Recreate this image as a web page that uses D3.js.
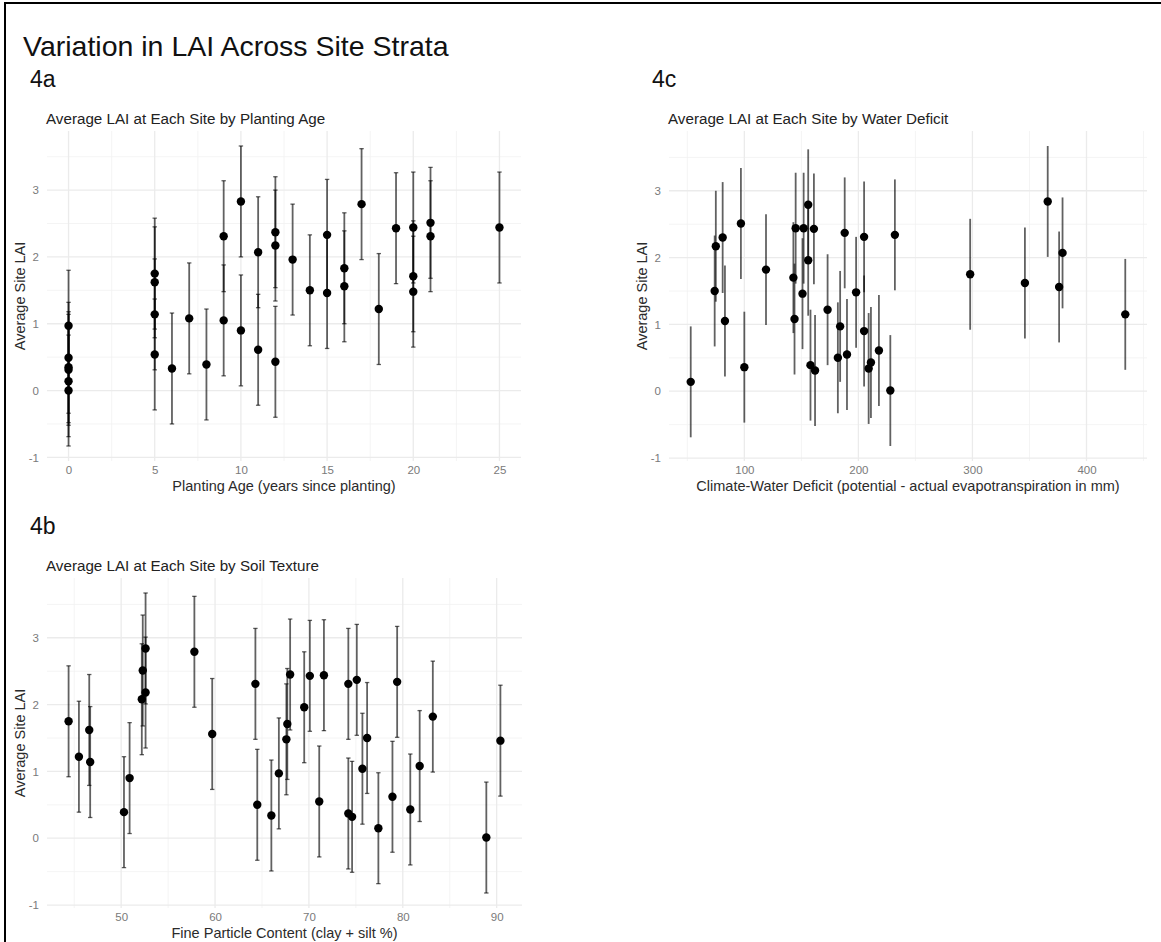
<!DOCTYPE html>
<html>
<head>
<meta charset="utf-8">
<script src="https://cdn.jsdelivr.net/npm/d3@7"></script>
<style>
  body { margin: 0; background: #fff; }
  text { font-family: "Liberation Sans", Arial, Helvetica, sans-serif; }
</style>
</head>
<body>
<script>
// spread of the error bars (same for every site)
const laiSd = 0.83

// 4a: planting age
const ageYears = [0, 0, 0, 0, 0, 0, 5, 5, 5, 5, 6, 7, 8, 9, 9, 10, 10, 11, 11, 12, 12, 12, 13, 14, 15, 15, 16, 16, 17, 18, 19, 20, 20, 20, 21, 21, 25]
const ageLai = [0.97, 0.49, 0.35, 0.31, 0.14, 0.00, 1.75, 1.62, 1.14, 0.54, 0.33, 1.08, 0.39, 2.31, 1.05, 2.83, 0.90, 2.07, 0.61, 2.37, 2.17, 0.43, 1.96, 1.50, 2.33, 1.46, 1.83, 1.56, 2.79, 1.22, 2.43, 2.44, 1.71, 1.48, 2.51, 2.31, 2.44]

// 4c: climate-water deficit
const cwdMm = [53, 74, 75, 81, 83, 97, 100, 119, 143, 144, 145, 151, 152, 156, 156, 158, 161, 162, 173, 182, 184, 188, 190, 198, 205, 205, 209, 211, 218, 228, 232, 298, 346, 366, 376, 379, 434]
const cwdLai = [0.14, 1.50, 2.17, 2.30, 1.05, 2.51, 0.36, 1.82, 1.70, 1.08, 2.44, 1.46, 2.44, 2.79, 1.96, 0.39, 2.43, 0.31, 1.22, 0.50, 0.97, 2.37, 0.55, 1.48, 2.31, 0.90, 0.34, 0.43, 0.61, 0.01, 2.34, 1.75, 1.62, 2.84, 1.56, 2.07, 1.15]

// 4b: soil texture
const finePct = [44.4, 45.5, 46.6, 46.7, 50.3, 50.9, 52.2, 52.3, 52.6, 52.6, 57.8, 59.7, 64.3, 64.5, 66.0, 66.8, 67.6, 67.7, 68.0, 69.5, 70.1, 71.1, 71.6, 74.2, 74.2, 74.6, 75.1, 75.7, 76.2, 77.4, 78.9, 79.4, 80.8, 81.8, 83.2, 88.9, 90.4]
const fineLai = [1.75, 1.22, 1.62, 1.14, 0.39, 0.90, 2.08, 2.51, 2.84, 2.18, 2.79, 1.56, 2.31, 0.50, 0.34, 0.97, 1.48, 1.71, 2.45, 1.96, 2.43, 0.55, 2.44, 0.37, 2.31, 0.32, 2.37, 1.04, 1.50, 0.15, 0.62, 2.34, 0.43, 1.08, 1.82, 0.01, 1.46]

// breaks
const laiTicks = [-1, 0, 1, 2, 3]
const laiMinor = [-0.5, 0.5, 1.5, 2.5, 3.5]
const ageTicks = [0, 5, 10, 15, 20, 25]
const ageMinor = [2.5, 7.5, 12.5, 17.5, 22.5]
const cwdTicks = [100, 200, 300, 400]
const cwdMinor = [50, 150, 250, 350, 450]
const fineTicks = [50, 60, 70, 80, 90]
const fineMinor = [45, 55, 65, 75, 85]

const width = 1161
const height = 942

const svg = d3.select('body')
  .append('svg')
  .attr('width', width)
  .attr('height', height)

svg.append('rect')
  .attr('x', 5)
  .attr('y', 3)
  .attr('width', 1300)
  .attr('height', 1100)
  .attr('fill', 'none')
  .attr('stroke', '#000')
  .attr('stroke-width', 2)

svg.append('text')
  .attr('x', 23)
  .attr('y', 56)
  .attr('font-size', 28.5)
  .attr('fill', '#111')
  .text('Variation in LAI Across Site Strata')

// ggplot style 5% expansion
function expand (ext) {
  const pad = (ext[1] - ext[0]) * 0.05
  return [ext[0] - pad, ext[1] + pad]
}

const panels = [
  { tag: '4a', title: 'Average LAI at Each Site by Planting Age', xTitle: 'Planting Age (years since planting)',
    xs: ageYears, ys: ageLai, ticks: ageTicks, minor: ageMinor, caps: true,
    left: 47, right: 521, top: 131, bottom: 461 },
  { tag: '4c', title: 'Average LAI at Each Site by Water Deficit', xTitle: 'Climate-Water Deficit (potential - actual evapotranspiration in mm)',
    xs: cwdMm, ys: cwdLai, ticks: cwdTicks, minor: cwdMinor, caps: false,
    left: 669, right: 1147, top: 131, bottom: 461 },
  { tag: '4b', title: 'Average LAI at Each Site by Soil Texture', xTitle: 'Fine Particle Content (clay + silt %)',
    xs: finePct, ys: fineLai, ticks: fineTicks, minor: fineMinor, caps: true,
    left: 47, right: 522, top: 578, bottom: 908 }
]

panels.forEach(p => {
  const data = p.xs.map((v, i) => ({ x: v, lai: p.ys[i] }))

  const xScale = d3.scaleLinear()
    .domain(expand(d3.extent(p.xs)))
    .range([p.left, p.right])

  const yScale = d3.scaleLinear()
    .domain(expand([d3.min(p.ys) - laiSd, d3.max(p.ys) + laiSd]))
    .range([p.bottom, p.top])

  const g = svg.append('g')

  // labels above the panel
  g.append('text')
    .attr('x', p.left - 17)
    .attr('y', p.top - 44)
    .attr('font-size', 23)
    .attr('fill', '#111')
    .text(p.tag)

  g.append('text')
    .attr('x', p.left - 1)
    .attr('y', p.top - 7)
    .attr('font-size', 15.2)
    .attr('fill', '#222')
    .text(p.title)

  // grid
  const grid = g.append('g')
  const gridLine = (vals, isX, w, col) => {
    grid.selectAll(null)
      .data(vals)
      .enter()
      .append('line')
      .attr('x1', d => isX ? xScale(d) : p.left)
      .attr('x2', d => isX ? xScale(d) : p.right)
      .attr('y1', d => isX ? p.top : yScale(d))
      .attr('y2', d => isX ? p.bottom : yScale(d))
      .attr('stroke', col)
      .attr('stroke-width', w)
  }
  gridLine(p.minor, true, 0.8, '#f1f1f1')
  gridLine(laiMinor, false, 0.8, '#f1f1f1')
  gridLine(p.ticks, true, 1.3, '#ebebeb')
  gridLine(laiTicks, false, 1.3, '#ebebeb')

  // axes (labels only)
  const fmt = d => String(d)
  const xAxis = g.append('g')
    .attr('transform', `translate(0, ${p.bottom})`)
    .call(d3.axisBottom(xScale).tickValues(p.ticks).tickFormat(fmt).tickSize(0).tickPadding(5))
  const yAxis = g.append('g')
    .attr('transform', `translate(${p.left}, 0)`)
    .call(d3.axisLeft(yScale).tickValues(laiTicks).tickFormat(fmt).tickSize(0).tickPadding(8))
  ;[xAxis, yAxis].forEach(a => {
    a.select('.domain').remove()
    a.selectAll('text')
      .attr('font-size', 11.5)
      .attr('fill', '#7a7a7a')
      .style('font-family', '"Liberation Sans", Arial, sans-serif')
  })

  g.append('text')
    .attr('x', (p.left + p.right) / 2)
    .attr('y', p.bottom + 30)
    .attr('text-anchor', 'middle')
    .attr('font-size', 14.5)
    .attr('fill', '#2b2b2b')
    .text(p.xTitle)

  g.append('text')
    .attr('transform', `translate(${p.left - 22}, ${(p.top + p.bottom) / 2}) rotate(-90)`)
    .attr('text-anchor', 'middle')
    .attr('font-size', 14.5)
    .attr('fill', '#2b2b2b')
    .text('Average Site LAI')

  // error bars
  const bars = g.append('g')
    .attr('stroke', '#000')
    .attr('stroke-opacity', 0.62)
    .attr('stroke-width', 1.8)

  bars.selectAll('line.bar')
    .data(data)
    .enter()
    .append('line')
    .attr('class', 'bar')
    .attr('x1', d => xScale(d.x))
    .attr('x2', d => xScale(d.x))
    .attr('y1', d => yScale(d.lai - laiSd))
    .attr('y2', d => yScale(d.lai + laiSd))

  if (p.caps) {
    const ends = data.flatMap(d => [d.lai - laiSd, d.lai + laiSd].map(v => ({ x: d.x, v })))
    bars.selectAll('line.cap')
      .data(ends)
      .enter()
      .append('line')
      .attr('class', 'cap')
      .attr('x1', d => xScale(d.x) - 2.2)
      .attr('x2', d => xScale(d.x) + 2.2)
      .attr('y1', d => yScale(d.v))
      .attr('y2', d => yScale(d.v))
      .attr('stroke-width', 1.3)
  }

  g.append('g')
    .selectAll('circle')
    .data(data)
    .enter()
    .append('circle')
    .attr('cx', d => xScale(d.x))
    .attr('cy', d => yScale(d.lai))
    .attr('r', 4.2)
    .attr('fill', '#000')
})
</script>
</body>
</html>
